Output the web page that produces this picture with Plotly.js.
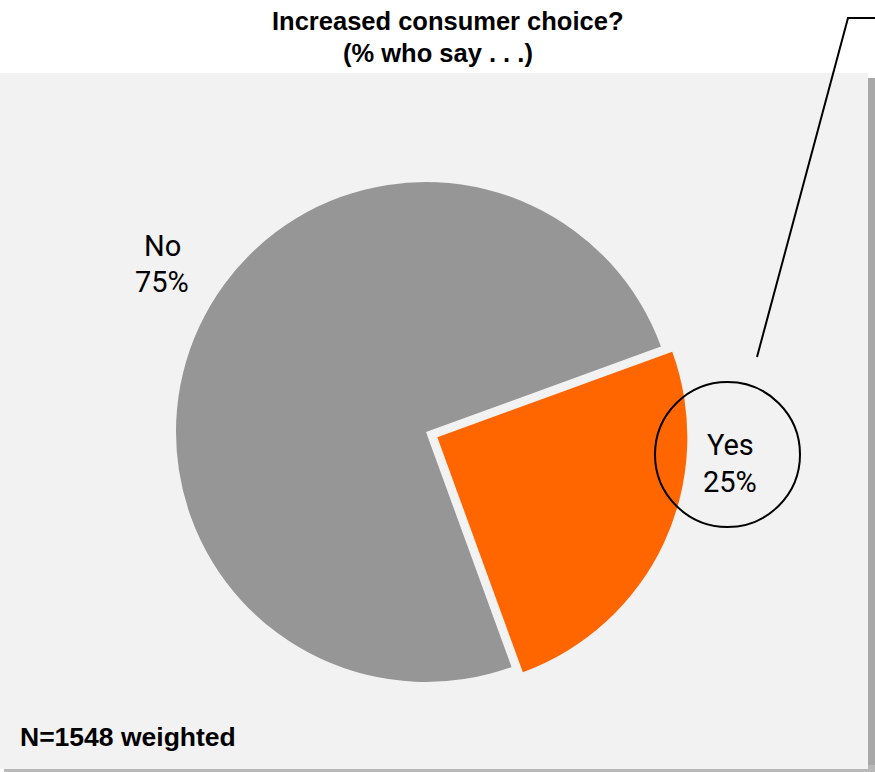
<!DOCTYPE html>
<html>
<head>
<meta charset="utf-8">
<script src="https://cdn.plot.ly/plotly-3.0.1.min.js"></script>
<style>html,body{margin:0;padding:0;background:#fff;}#chart{width:875px;height:772px;}</style>
</head>
<body>
<div id="chart"></div>
<script>
// ---- data ----
var labels = ["Yes", "No"];
var values = [25, 75];
var colors = ["#ff6600", "#969696"];
var pulls = [0.05, 0];
var titleLines = ["Increased consumer choice?", "(% who say . . .)"];
var footnote = "N=1548 weighted";

// ---- layout helpers (pixel -> paper) ----
var W = 875, H = 772;
function px(x) { return x / W; }
function py(y) { return 1 - y / H; }

var narrow = "Liberation Sans Narrow, Arial Narrow, Roboto, sans-serif";
var boldFont = "Liberation Sans, Arial, sans-serif";

var trace = {
  type: "pie",
  labels: labels,
  values: values,
  marker: { colors: colors, line: { width: 0 } },
  pull: pulls,
  sort: false,
  direction: "clockwise",
  rotation: 70,
  textinfo: "none",
  hoverinfo: "label+percent",
  showlegend: false,
  domain: { x: [px(426 - 262.5), px(426 + 262.5)], y: [py(432 + 262.5), py(432 - 262.5)] }
};

// label positions (pixel centres) for each slice's text
var labelPos = { "Yes": [730, 445, 482], "No": [162, 246, 282] };
var annotations = [];
labels.forEach(function (lab, i) {
  var p = labelPos[lab];
  annotations.push({ xref: "paper", yref: "paper", x: px(p[0]), y: py(p[1]), text: lab,
    showarrow: false, xanchor: "center", yanchor: "middle",
    font: { family: narrow, size: 29, color: "#000" } });
  annotations.push({ xref: "paper", yref: "paper", x: px(p[0]), y: py(p[2]), text: values[i] + "%",
    showarrow: false, xanchor: "center", yanchor: "middle",
    font: { family: narrow, size: 29, color: "#000" } });
});
// title lines
annotations.push({ xref: "paper", yref: "paper", x: px(447), y: py(21), text: "<b>" + titleLines[0] + "</b>",
  showarrow: false, xanchor: "center", yanchor: "middle",
  font: { family: boldFont, size: 25.5, color: "#000" } });
annotations.push({ xref: "paper", yref: "paper", x: px(438), y: py(53), text: "<b>" + titleLines[1] + "</b>",
  showarrow: false, xanchor: "center", yanchor: "middle",
  font: { family: boldFont, size: 25.5, color: "#000" } });
annotations.push({ xref: "paper", yref: "paper", x: px(18), y: py(737), text: "<b>" + footnote + "</b>",
  showarrow: false, xanchor: "left", yanchor: "middle",
  font: { family: boldFont, size: 26.5, color: "#000" } });

var shapes = [
  // drop shadow
  { type: "rect", xref: "paper", yref: "paper", x0: px(862), x1: px(875), y0: py(772), y1: py(78),
    fillcolor: "#a8a8a8", line: { width: 0 }, layer: "below" },
  { type: "rect", xref: "paper", yref: "paper", x0: px(4), x1: px(875), y0: py(772), y1: py(765),
    fillcolor: "#b8b8b8", line: { width: 0 }, layer: "below" },
  // panel
  { type: "rect", xref: "paper", yref: "paper", x0: 0, x1: px(868), y0: py(769), y1: py(73),
    fillcolor: "#f2f2f2", line: { width: 0 }, layer: "below" },
  // callout circle
  { type: "circle", xref: "paper", yref: "paper", x0: px(655), x1: px(800), y0: py(527), y1: py(382),
    line: { color: "#000", width: 2 }, fillcolor: "rgba(0,0,0,0)", layer: "above" },
  // leader line
  { type: "path", xref: "paper", yref: "paper",
    path: "M " + px(757) + "," + py(357) + " L " + px(848) + "," + py(18) + " L " + px(876) + "," + py(18),
    line: { color: "#000", width: 2 }, layer: "above" }
];

var layout = {
  width: W, height: H,
  margin: { l: 0, r: 0, t: 0, b: 0 },
  paper_bgcolor: "#ffffff",
  plot_bgcolor: "#ffffff",
  shapes: shapes,
  annotations: annotations
};

Plotly.newPlot("chart", [trace], layout, { displayModeBar: false, staticPlot: true });
</script>
</body>
</html>
